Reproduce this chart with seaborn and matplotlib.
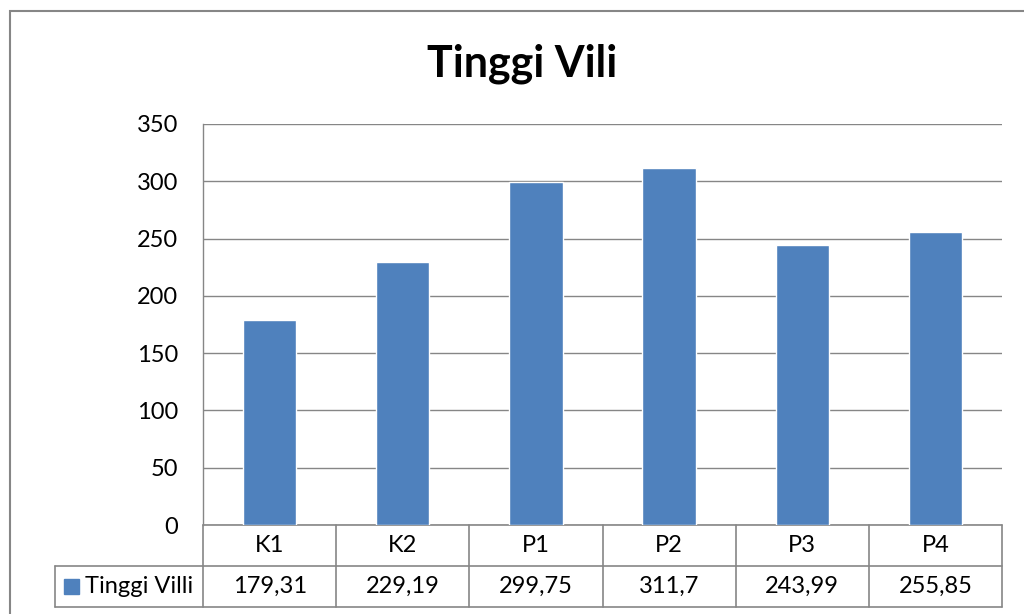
import matplotlib
matplotlib.use('Agg')
import seaborn as sns
from matplotlib import pyplot as plt
from matplotlib.lines import Line2D
from matplotlib.patches import Rectangle
import pandas as pd

# Data
categories = ['K1', 'K2', 'P1', 'P2', 'P3', 'P4']
values = [179.31, 229.19, 299.75, 311.7, 243.99, 255.85]
value_labels = ['179,31', '229,19', '299,75', '311,7', '243,99', '255,85']
series_name = 'Tinggi Villi'
title = 'Tinggi Vili'
yticks = [0, 50, 100, 150, 200, 250, 300, 350]

bar_color = '#4F81BD'
line_color = '#868686'

sns.set_style('white')
plt.rcParams['font.family'] = ['Lato', 'DejaVu Sans']
plt.rcParams['text.color'] = 'black'
plt.rcParams['ytick.labelcolor'] = 'black'

df = pd.DataFrame({'cat': categories, 'val': values})

fig = plt.figure(figsize=(10.24, 6.14), dpi=100)
ax = fig.add_axes([203 / 1024, 1 - 525 / 614, 799 / 1024, 401 / 614])

sns.barplot(data=df, x='cat', y='val', color=bar_color, saturation=1,
            width=0.4, ax=ax, zorder=3)

ax.set_xlim(-0.5, len(categories) - 0.5)
ax.set_ylim(0, 350)
ax.set_yticks(yticks)
ax.set_yticklabels([str(t) for t in yticks], fontsize=17, color='black')
ax.tick_params(axis='y', length=0, pad=18)
ax.set_xticks([])
ax.set_xlabel('')
ax.set_ylabel('')
ax.yaxis.grid(True, color=line_color, linewidth=1, zorder=0)
for s in ['top', 'right', 'bottom']:
    ax.spines[s].set_visible(False)
ax.spines['left'].set_color(line_color)
ax.spines['left'].set_linewidth(1)

# Data table below plot
row_h = 41 / 401
n = len(categories)
xt = ax.get_xaxis_transform()
kw = dict(transform=xt, color=line_color, lw=1.2, clip_on=False)
legend_left = -0.5 - 148 / 133.2
ax.add_line(Line2D([-0.5, n - 0.5], [0, 0], **kw))
ax.add_line(Line2D([legend_left, n - 0.5], [-row_h, -row_h], **kw))
ax.add_line(Line2D([legend_left, n - 0.5], [-2 * row_h, -2 * row_h], **kw))
ax.add_line(Line2D([legend_left, legend_left], [-row_h, -2 * row_h], **kw))
for i in range(n + 1):
    ax.add_line(Line2D([i - 0.5, i - 0.5], [0, -2 * row_h], **kw))

for i, (c, v) in enumerate(zip(categories, value_labels)):
    ax.text(i, -row_h / 2, c, transform=xt, ha='center', va='center', fontsize=17)
    ax.text(i, -1.5 * row_h, v, transform=xt, ha='center', va='center', fontsize=17)

# legend key inside table
ax.add_patch(Rectangle((legend_left + 9 / 133.2, -1.5 * row_h - 7.5 / 401),
                       15 / 133.2, 15 / 401, transform=xt, color=bar_color,
                       clip_on=False))
ax.text(legend_left + 30 / 133.2, -1.5 * row_h, series_name,
        transform=xt, ha='left', va='center', fontsize=17)

fig.text(522 / 1024, 1 - 64 / 614, title, ha='center', va='center',
         fontsize=31, fontweight='bold')

# outer chart border
fig.add_artist(Rectangle((10 / 1024, -0.05), 1.1, 1 - 11 / 614 + 0.05,
                         transform=fig.transFigure, fill=False,
                         edgecolor=line_color, lw=1.5))

fig.savefig('out.png', dpi=100)
